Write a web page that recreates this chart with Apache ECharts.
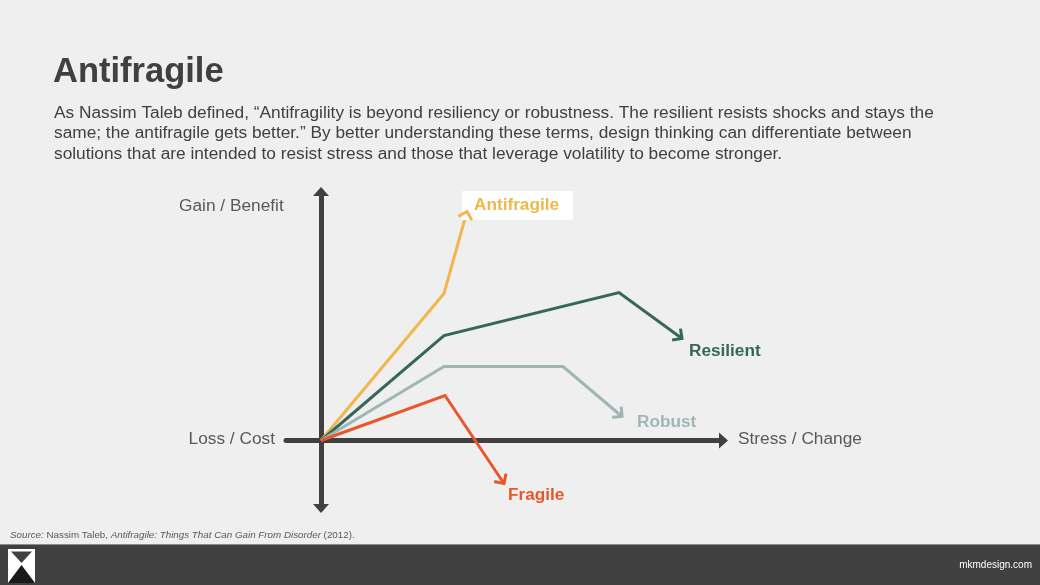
<!DOCTYPE html>
<html>
<head>
<meta charset="utf-8">
<script src="https://cdn.jsdelivr.net/npm/echarts@6/dist/echarts.min.js"></script>
<style>
  html, body { margin: 0; padding: 0; background: #efefef; }
  #chart-container { width: 1040px; height: 585px; }
</style>
</head>
<body>
<div id="chart-container"></div>
<script>
// curve names and colours
var curveNames = ['Antifragile', 'Resilient', 'Robust', 'Fragile'];
var curveColors = ['#f0b74b', '#36675b', '#9fb6b5', '#e8572a'];

// [stress, gain] points, ending at the arrow tip
var antifragile = [[0, 0], [12.3, 14.7], [14.6, 22.9]];
var resilient = [[0, 0], [12.3, 10.5], [29.8, 14.8], [36.1, 10.2]];
var robust = [[0, 0], [12.3, 7.4], [24.2, 7.4], [30.1, 2.4]];
var fragile = [[0, 0], [12.4, 4.5], [18.3, -4.3]];
var curves = [antifragile, resilient, robust, fragile];

// axis extents
var stressRange = [-3.5, 40.25];
var gainRange = [-6.8, 24.9];

var font = 'Liberation Sans, Arial, sans-serif';

var dom = document.getElementById('chart-container');
var myChart = echarts.init(dom, null, { renderer: 'canvas' });

// label placement for each curve, relative to its arrow tip
var labelOffsets = [[-5, -6], [7, 13], [15, 6], [4, 12]];

var lineSeries = curves.map(function (pts, i) {
  return {
    name: curveNames[i],
    type: 'line',
    data: pts,
    showSymbol: false,
    symbol: 'none',
    silent: true,
    animation: false,
    z: 3 + i,
    lineStyle: { color: curveColors[i], width: 3, join: 'miter' }
  };
});

// arrowheads + names: last segment of each curve
var arrowData = curves.map(function (pts) {
  var a = pts[pts.length - 2];
  var b = pts[pts.length - 1];
  return [a[0], a[1], b[0], b[1]];
});

var arrowSeries = {
  type: 'custom',
  silent: true,
  animation: false,
  z: 10,
  encode: { x: [0, 2], y: [1, 3] },
  data: arrowData,
  renderItem: function (params, api) {
    var i = params.dataIndex;
    var p0 = api.coord([api.value(0), api.value(1)]);
    var p1 = api.coord([api.value(2), api.value(3)]);
    var back = Math.atan2(p0[1] - p1[1], p0[0] - p1[0]);
    var len = 10;
    var w1 = [p1[0] + len * Math.cos(back + Math.PI / 4), p1[1] + len * Math.sin(back + Math.PI / 4)];
    var w2 = [p1[0] + len * Math.cos(back - Math.PI / 4), p1[1] + len * Math.sin(back - Math.PI / 4)];
    return {
      type: 'group',
      children: [
        {
          type: 'text',
          x: p1[0] + labelOffsets[i][0],
          y: p1[1] + labelOffsets[i][1],
          style: {
            text: curveNames[i],
            fill: curveColors[i],
            fontFamily: font,
            fontWeight: 'bold',
            fontSize: 17.2,
            align: 'left',
            verticalAlign: 'middle',
            backgroundColor: i === 0 ? '#ffffff' : null,
            padding: i === 0 ? [6, 14, 6, 12] : 0
          }
        },
        {
          type: 'polyline',
          shape: { points: [w1, p1, w2] },
          style: { stroke: curveColors[i], lineWidth: 3, fill: null, lineJoin: 'miter' }
        }
      ]
    };
  }
};

var option = {
  backgroundColor: '#efefef',
  animation: false,
  grid: { left: 286, right: 316.5, top: 191.5, bottom: 76.5, containLabel: false },
  xAxis: {
    type: 'value',
    min: stressRange[0],
    max: stressRange[1],
    axisLine: {
      show: true,
      onZero: true,
      symbol: ['none', 'triangle'],
      symbolSize: [16, 9],
      lineStyle: { color: '#404040', width: 5 }
    },
    axisTick: { show: false },
    axisLabel: { show: false },
    splitLine: { show: false }
  },
  yAxis: {
    type: 'value',
    min: gainRange[0],
    max: gainRange[1],
    axisLine: {
      show: true,
      onZero: true,
      symbol: ['triangle', 'triangle'],
      symbolSize: [16, 9],
      lineStyle: { color: '#404040', width: 5 }
    },
    axisTick: { show: false },
    axisLabel: { show: false },
    splitLine: { show: false }
  },
  graphic: [
    {
      type: 'text', x: 53, y: 72,
      style: { text: 'Antifragile', fontFamily: font, fontSize: 34.5, fontWeight: 'bold', fill: '#404040', verticalAlign: 'middle' }
    },
    {
      type: 'text', x: 54, y: 102.5,
      style: {
        text: 'As Nassim Taleb defined, \u201cAntifragility is beyond resiliency or robustness. The resilient resists shocks and stays the\n' +
          'same; the antifragile gets better.\u201d By better understanding these terms, design thinking can differentiate between\n' +
          'solutions that are intended to resist stress and those that leverage volatility to become stronger.',
        fontFamily: font, fontSize: 17.3, lineHeight: 20.5, fill: '#404040', verticalAlign: 'top'
      }
    },
    {
      type: 'text', x: 179, y: 206,
      style: { text: 'Gain / Benefit', fontFamily: font, fontSize: 17.3, fill: '#595959', verticalAlign: 'middle' }
    },
    {
      type: 'text', x: 275, y: 439,
      style: { text: 'Loss / Cost', fontFamily: font, fontSize: 17.3, fill: '#595959', align: 'right', verticalAlign: 'middle' }
    },
    {
      type: 'text', x: 738, y: 439,
      style: { text: 'Stress / Change', fontFamily: font, fontSize: 17.3, fill: '#595959', verticalAlign: 'middle' }
    },
    {
      type: 'text', x: 10, y: 535,
      style: {
        text: '{i|Source:} Nassim Taleb, {i|Antifragile: Things That Can Gain From Disorder} (2012).',
        fontFamily: font, fontSize: 9.8, fill: '#595959', verticalAlign: 'middle',
        rich: { i: { fontFamily: font, fontSize: 9.8, fill: '#595959', fontStyle: 'italic' } }
      }
    },
    {
      type: 'rect', shape: { x: 0, y: 544, width: 1040, height: 41 },
      style: { fill: '#404040' }
    },
    {
      type: 'rect', shape: { x: 0, y: 544, width: 1040, height: 1 },
      style: { fill: '#8c8c8c' }
    },
    {
      type: 'rect', shape: { x: 8, y: 549, width: 27, height: 34 },
      style: { fill: '#ffffff' }
    },
    {
      type: 'polygon', shape: { points: [[11, 551.5], [32, 551.5], [21.5, 563]] },
      style: { fill: '#404040' }
    },
    {
      type: 'polygon', shape: { points: [[8, 583], [35, 583], [21.5, 565]] },
      style: { fill: '#1a1a1a' }
    },
    {
      type: 'text', x: 1032, y: 565,
      style: { text: 'mkmdesign.com', fontFamily: font, fontSize: 10, fill: '#ffffff', align: 'right', verticalAlign: 'middle' }
    }
  ],
  series: lineSeries.concat([arrowSeries])
};

if (option && typeof option === 'object') {
  myChart.setOption(option);
}

window.addEventListener('resize', myChart.resize);
</script>
</body>
</html>
